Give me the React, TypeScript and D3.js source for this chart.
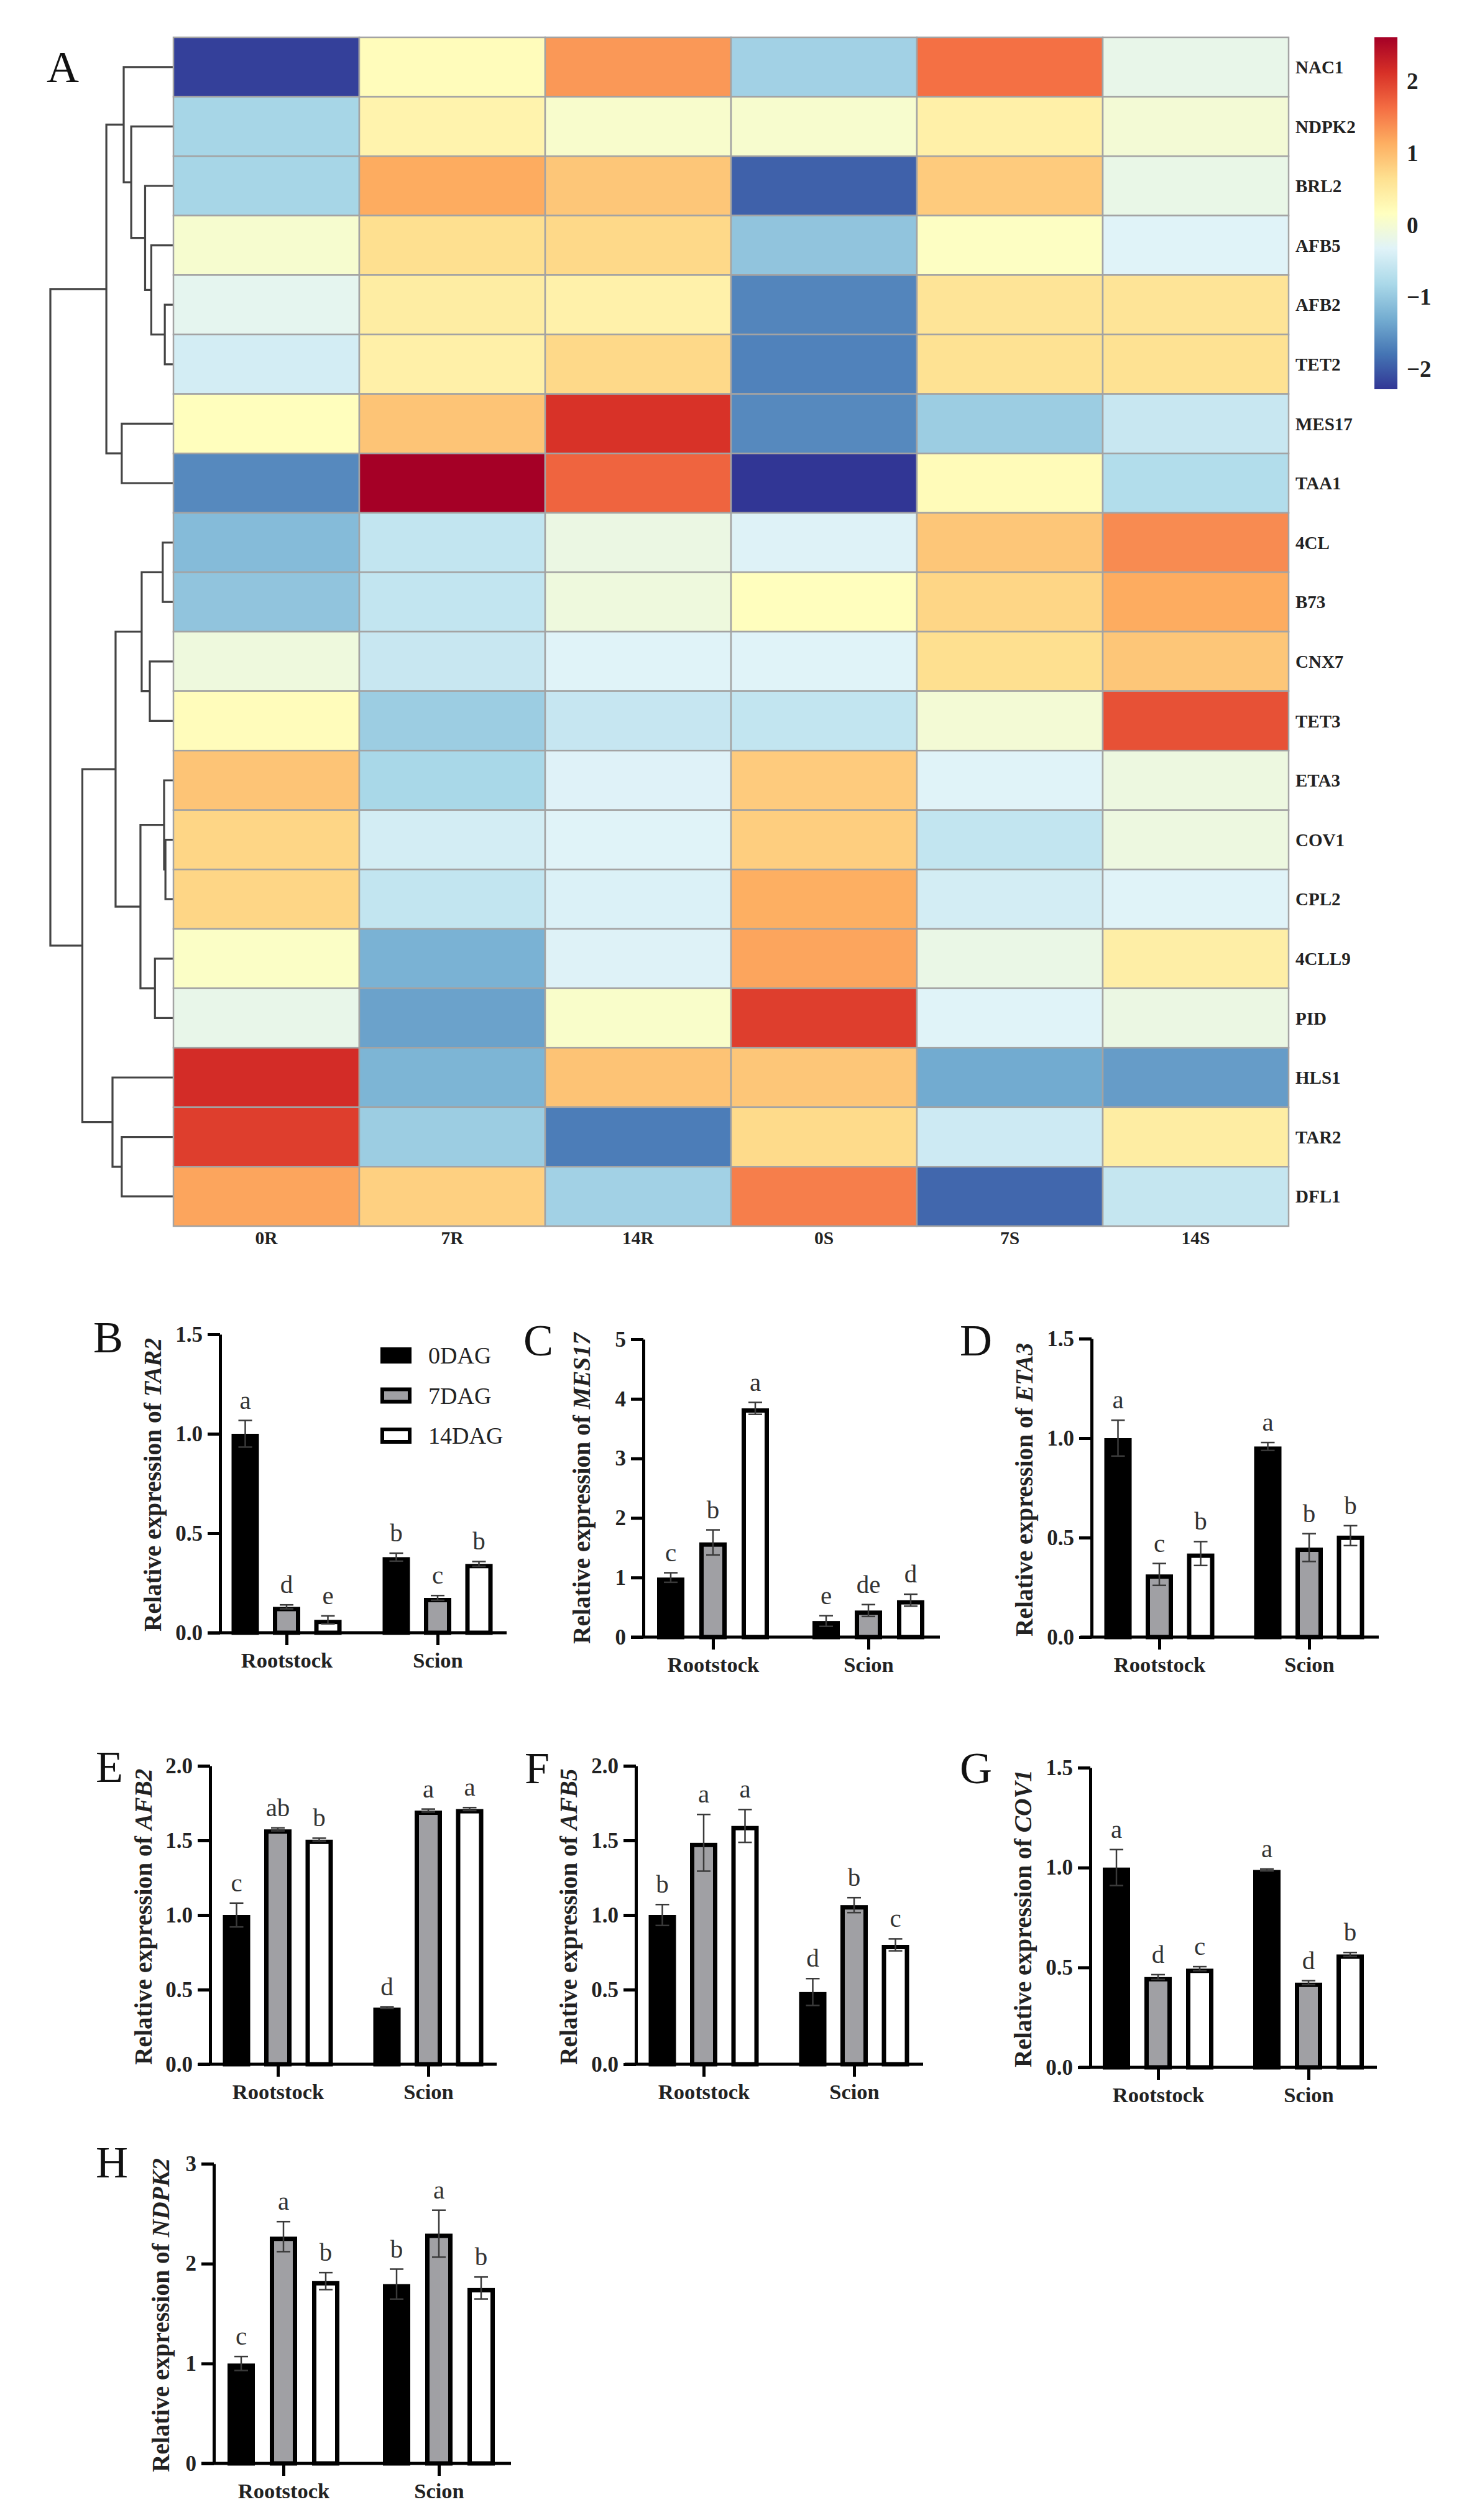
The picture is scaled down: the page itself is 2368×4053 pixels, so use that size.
import React, { useEffect, useRef } from "react";
import * as d3 from "d3";

// ---------- heatmap data ----------
const conditions = ["0R", "7R", "14R", "0S", "7S", "14S"];
const genes = ["NAC1", "NDPK2", "BRL2", "AFB5", "AFB2", "TET2", "MES17", "TAA1", "4CL", "B73", "CNX7", "TET3", "ETA3", "COV1", "CPL2", "4CLL9", "PID", "HLS1", "TAR2", "DFL1"];
const heatValues = [
  [-2.2, 0.2, 1.3, -0.9, 1.6, -0.2],
  [-0.85, 0.35, 0.05, 0.03, 0.4, -0.03],
  [-0.85, 1.15, 0.9, -1.95, 0.85, -0.18],
  [0.02, 0.65, 0.72, -1.05, 0.13, -0.33],
  [-0.25, 0.45, 0.38, -1.65, 0.58, 0.58],
  [-0.45, 0.4, 0.72, -1.68, 0.62, 0.62],
  [0.18, 0.92, 2.1, -1.62, -0.95, -0.55],
  [-1.62, 2.6, 1.7, -2.28, 0.22, -0.75],
  [-1.15, -0.6, -0.15, -0.35, 0.9, 1.4],
  [-1.05, -0.6, -0.1, 0.17, 0.75, 1.15],
  [-0.1, -0.55, -0.33, -0.33, 0.65, 0.9],
  [0.2, -0.95, -0.57, -0.6, -0.03, 1.85],
  [0.92, -0.83, -0.34, 0.85, -0.33, -0.12],
  [0.75, -0.45, -0.33, 0.82, -0.6, -0.12],
  [0.75, -0.6, -0.37, 1.13, -0.45, -0.33],
  [0.1, -1.25, -0.35, 1.2, -0.17, 0.42],
  [-0.2, -1.4, 0.07, 2.0, -0.33, -0.15],
  [2.15, -1.22, 0.93, 0.9, -1.32, -1.45],
  [2.0, -0.95, -1.72, 0.7, -0.5, 0.45],
  [1.2, 0.8, -0.9, 1.5, -1.9, -0.58],
];
const heatColors = ["#313695", "#4575B4", "#74ADD1", "#ABD9E9", "#E0F3F8", "#FFFFBF", "#FEE090", "#FDAE61", "#F46D43", "#D73027", "#A50026"];
const heatMin = -2.28;
const heatMax = 2.6;
const colorbarTicks = [2, 1, 0, -1, -2];

// Row dendrogram: [height, childA, childB]; leaves are gene names.
type Tree = string | [number, Tree, Tree];
const dendrogram: Tree = [100,
  [54.5,
    [40.4, "NAC1",
      [34.3, "NDPK2",
        [23, "BRL2",
          [18, "AFB5", [7, "AFB2", "TET2"]]]]],
    [42, "MES17", "TAA1"]],
  [74,
    [47,
      [25.8, [8.7, "4CL", "B73"], [19.2, "CNX7", "TET3"]],
      [26.8, [7.6, "ETA3", [6.5, "COV1", "CPL2"]], [15, "4CLL9", "PID"]]],
    [49.5, "HLS1", [42, "TAR2", "DFL1"]]],
];

// ---------- bar panel data ----------
const sites = ["Rootstock", "Scion"];
const stages = ["0DAG", "7DAG", "14DAG"];
const stageFill = ["#000000", "#A0A0A4", "#FFFFFF"];

const tar2Mean = [[1.0, 0.13, 0.065], [0.38, 0.175, 0.346]];
const tar2Err = [[0.067, 0.01, 0.02], [0.02, 0.012, 0.012]];
const tar2Sig = [["a", "d", "e"], ["b", "c", "b"]];

const mes17Mean = [[1.0, 1.59, 3.84], [0.27, 0.446, 0.62]];
const mes17Err = [[0.08, 0.21, 0.1], [0.09, 0.1, 0.1]];
const mes17Sig = [["c", "b", "a"], ["e", "de", "d"]];

const eta3Mean = [[1.0, 0.315, 0.42], [0.958, 0.45, 0.51]];
const eta3Err = [[0.09, 0.055, 0.06], [0.02, 0.07, 0.05]];
const eta3Sig = [["a", "c", "b"], ["a", "b", "b"]];

const afb2Mean = [[1.0, 1.574, 1.505], [0.38, 1.7, 1.71]];
const afb2Err = [[0.08, 0.01, 0.01], [0.005, 0.01, 0.01]];
const afb2Sig = [["c", "ab", "b"], ["d", "a", "a"]];

const afb5Mean = [[1.0, 1.484, 1.597], [0.484, 1.066, 0.8]];
const afb5Err = [[0.07, 0.19, 0.11], [0.09, 0.05, 0.04]];
const afb5Sig = [["b", "a", "a"], ["d", "b", "c"]];

const cov1Mean = [[1.0, 0.452, 0.494], [0.988, 0.424, 0.565]];
const cov1Err = [[0.09, 0.012, 0.01], [0.005, 0.01, 0.01]];
const cov1Sig = [["a", "d", "c"], ["a", "d", "b"]];

const ndpk2Mean = [[1.0, 2.27, 1.825], [1.795, 2.3, 1.756]];
const ndpk2Err = [[0.07, 0.15, 0.085], [0.15, 0.235, 0.11]];
const ndpk2Sig = [["c", "a", "b"], ["b", "a", "b"]];

const ticks15 = [0, 0.5, 1.0, 1.5];
const ticks20 = [0, 0.5, 1.0, 1.5, 2.0];
const ticks5 = [0, 1, 2, 3, 4, 5];
const ticks3 = [0, 1, 2, 3];

const FONT = '"Liberation Serif", serif';

interface Panel {
  letter: string; gene: string; mean: number[][]; err: number[][]; sig: string[][];
  ticks: number[]; fmt: string;
  axisX: number; top: number; base: number; xStart: number; xEnd: number;
  g1: number; g2: number; step: number;
  letterX: number; letterY: number; titleX: number; titleY: number;
}

const panels: Panel[] = [
  { letter: "B", gene: "TAR2", mean: tar2Mean, err: tar2Err, sig: tar2Sig, ticks: ticks15, fmt: ".1f", axisX: 354, top: 2146, base: 2626, xStart: 334, xEnd: 815, g1: 461, g2: 704, step: 66.5, letterX: 150, letterY: 2175, titleX: 245, titleY: 2624 },
  { letter: "C", gene: "MES17", mean: mes17Mean, err: mes17Err, sig: mes17Sig, ticks: ticks5, fmt: "d", axisX: 1035, top: 2154, base: 2633, xStart: 1015, xEnd: 1512, g1: 1147, g2: 1397, step: 68, letterX: 842, letterY: 2180, titleX: 935, titleY: 2644 },
  { letter: "D", gene: "ETA3", mean: eta3Mean, err: eta3Err, sig: eta3Sig, ticks: ticks15, fmt: ".1f", axisX: 1756, top: 2153, base: 2633, xStart: 1738, xEnd: 2218, g1: 1865, g2: 2106, step: 66.5, letterX: 1544, letterY: 2180, titleX: 1647, titleY: 2632 },
  { letter: "E", gene: "AFB2", mean: afb2Mean, err: afb2Err, sig: afb2Sig, ticks: ticks20, fmt: ".1f", axisX: 338, top: 2840, base: 3320, xStart: 319, xEnd: 799, g1: 447, g2: 689, step: 66.5, letterX: 154, letterY: 2866, titleX: 230, titleY: 3321 },
  { letter: "F", gene: "AFB5", mean: afb5Mean, err: afb5Err, sig: afb5Sig, ticks: ticks20, fmt: ".1f", axisX: 1023, top: 2840, base: 3320, xStart: 1005, xEnd: 1485, g1: 1132, g2: 1374, step: 66.5, letterX: 844, letterY: 2868, titleX: 914, titleY: 3321 },
  { letter: "G", gene: "COV1", mean: cov1Mean, err: cov1Err, sig: cov1Sig, ticks: ticks15, fmt: ".1f", axisX: 1754, top: 2843, base: 3325, xStart: 1736, xEnd: 2215, g1: 1863, g2: 2105, step: 67, letterX: 1544, letterY: 2868, titleX: 1645, titleY: 3325 },
  { letter: "H", gene: "NDPK2", mean: ndpk2Mean, err: ndpk2Err, sig: ndpk2Sig, ticks: ticks3, fmt: "d", axisX: 344, top: 3480, base: 3962, xStart: 324, xEnd: 822, g1: 456, g2: 706, step: 68, letterX: 154, letterY: 3502, titleX: 258, titleY: 3976 },
];

function BarPanel({ p }: { p: Panel }) {
  const yRef = useRef<SVGGElement>(null);
  const xRef = useRef<SVGGElement>(null);
  const y = d3.scaleLinear().domain([0, p.ticks[p.ticks.length - 1]]).range([p.base, p.top]);
  const group = d3.scalePoint<string>().domain(sites).range([p.g1, p.g2]);
  const sub = d3.scalePoint<string>().domain(stages).range([-p.step, p.step]);
  const barW = 37;
  const capW = 22;
  const sw = 7;

  useEffect(() => {
    const ya = d3.select(yRef.current!);
    ya.call(d3.axisLeft(y).tickValues(p.ticks).tickSize(20).tickSizeOuter(0).tickPadding(8).tickFormat(d3.format(p.fmt)) as any);
    ya.selectAll("path,line").attr("stroke", "#000").attr("stroke-width", 5);
    ya.selectAll("text").attr("font-family", FONT).attr("font-size", 35).attr("font-weight", "bold").attr("fill", "#222");
    const xa = d3.select(xRef.current!);
    xa.call(d3.axisBottom(group).tickSize(20).tickSizeOuter(0).tickPadding(12) as any);
    xa.select("path").remove();
    xa.selectAll("line").attr("stroke", "#000").attr("stroke-width", 5);
    xa.selectAll("text").attr("font-family", FONT).attr("font-size", 34.5).attr("font-weight", "bold").attr("fill", "#222");
  }, []);

  return (
    <g>
      <text x={p.letterX} y={p.letterY} fontFamily={FONT} fontSize={72} fill="#111">{p.letter}</text>
      <text transform={`translate(${p.titleX},${p.titleY}) rotate(-90)`} dy="0.35em" fontFamily={FONT} fontSize={39.5} fontWeight="bold" fill="#222">
        Relative expression of <tspan fontStyle="italic">{p.gene}</tspan>
      </text>
      {sites.map((site, i) => stages.map((stage, j) => {
        const cx = group(site)! + sub(stage)!;
        const m = p.mean[i][j];
        const e = p.err[i][j];
        const yTop = y(m + e);
        const yBot = y(m - e);
        const barTop = y(m) + sw / 2;
        return (
          <g key={site + stage}>
            <rect x={cx - barW / 2} y={barTop} width={barW} height={Math.max(p.base - barTop, 0)} fill={stageFill[j]} stroke="#000" strokeWidth={sw} />
            <line x1={cx} x2={cx} y1={yTop} y2={yBot} stroke="#3a3a3a" strokeWidth={2.5} />
            <line x1={cx - capW / 2} x2={cx + capW / 2} y1={yTop} y2={yTop} stroke="#3a3a3a" strokeWidth={2.5} />
            <line x1={cx - capW / 2} x2={cx + capW / 2} y1={yBot} y2={yBot} stroke="#3a3a3a" strokeWidth={2.5} />
            <text x={cx} y={yTop - 19} textAnchor="middle" fontFamily={FONT} fontSize={41} fill="#333">{p.sig[i][j]}</text>
          </g>
        );
      }))}
      <g ref={yRef} transform={`translate(${p.axisX},0)`} />
      <g ref={xRef} transform={`translate(0,${p.base})`} />
      <line x1={p.xStart} x2={p.xEnd} y1={p.base} y2={p.base} stroke="#000" strokeWidth={5} />
    </g>
  );
}

function Legend() {
  const legendY = d3.scalePoint<string>().domain(stages).range([2180, 2309]);
  return (
    <g>
      {stages.map((s, i) => (
        <g key={s}>
          <rect x={615} y={legendY(s)! - 10} width={44} height={20} fill={stageFill[i]} stroke="#000" strokeWidth={6} />
          <text x={689} y={legendY(s)!} dy="0.35em" fontFamily={FONT} fontSize={38} fill="#222">{s}</text>
        </g>
      ))}
    </g>
  );
}

export default function App() {
  const col = d3.scaleBand<string>().domain(conditions).range([279, 2073]);
  const row = d3.scaleBand<string>().domain(genes).range([60, 1972]);
  const color = d3.scaleLinear<string>()
    .domain(heatColors.map((_, i) => heatMin + (i * (heatMax - heatMin)) / (heatColors.length - 1)))
    .range(heatColors);
  const barY = d3.scaleLinear().domain([heatMax, heatMin]).range([60, 626]);
  const dendroX = d3.scaleLinear().domain([0, 100]).range([279, 81]);

  const segs: string[] = [];
  const walk = (t: Tree): [number, number] => {
    if (typeof t === "string") return [dendroX(0), row(t)! + row.bandwidth() / 2];
    const [a, ay] = walk(t[1]);
    const [b, by] = walk(t[2]);
    const x = dendroX(t[0]);
    const path = d3.path();
    path.moveTo(a, ay);
    path.lineTo(x, ay);
    path.lineTo(x, by);
    path.lineTo(b, by);
    segs.push(path.toString());
    return [x, (ay + by) / 2];
  };
  walk(dendrogram);

  return (
    <svg width={2368} height={4053} viewBox="0 0 2368 4053" style={{ position: "absolute", left: 0, top: 0, display: "block", background: "#fff" }}>
      <defs>
        <linearGradient id="cbar" x1="0" x2="0" y1="1" y2="0">
          {heatColors.map((c, i) => (
            <stop key={c} offset={i / (heatColors.length - 1)} stopColor={c} />
          ))}
        </linearGradient>
      </defs>
      <text x={75} y={132} fontFamily={FONT} fontSize={72} fill="#111">A</text>
      {segs.map((d, i) => <path key={i} d={d} fill="none" stroke="#444" strokeWidth={3.2} />)}
      {genes.map((g, r) => conditions.map((c, k) => (
        <rect key={g + c} x={col(c)} y={row(g)} width={col.bandwidth()} height={row.bandwidth()} fill={color(heatValues[r][k])} stroke="#A3A3A3" strokeWidth={2.5} />
      )))}
      {genes.map(g => (
        <text key={g} x={2084} y={row(g)! + row.bandwidth() / 2} dy="0.35em" fontFamily={FONT} fontSize={29} fontWeight="bold" fill="#222">{g}</text>
      ))}
      {conditions.map(c => (
        <text key={c} x={col(c)! + col.bandwidth() / 2} y={2001} textAnchor="middle" fontFamily={FONT} fontSize={29.5} fontWeight="bold" fill="#222">{c}</text>
      ))}
      <rect x={2211} y={barY(heatMax)} width={37} height={barY(heatMin) - barY(heatMax)} fill="url(#cbar)" />
      {colorbarTicks.map(t => (
        <text key={t} x={2263} y={barY(t)} dy="0.35em" fontFamily={FONT} fontSize={37} fontWeight="bold" fill="#222">{t < 0 ? "\u2212" + Math.abs(t) : t}</text>
      ))}
      {panels.map(p => <BarPanel key={p.letter} p={p} />)}
      <Legend />
    </svg>
  );
}
